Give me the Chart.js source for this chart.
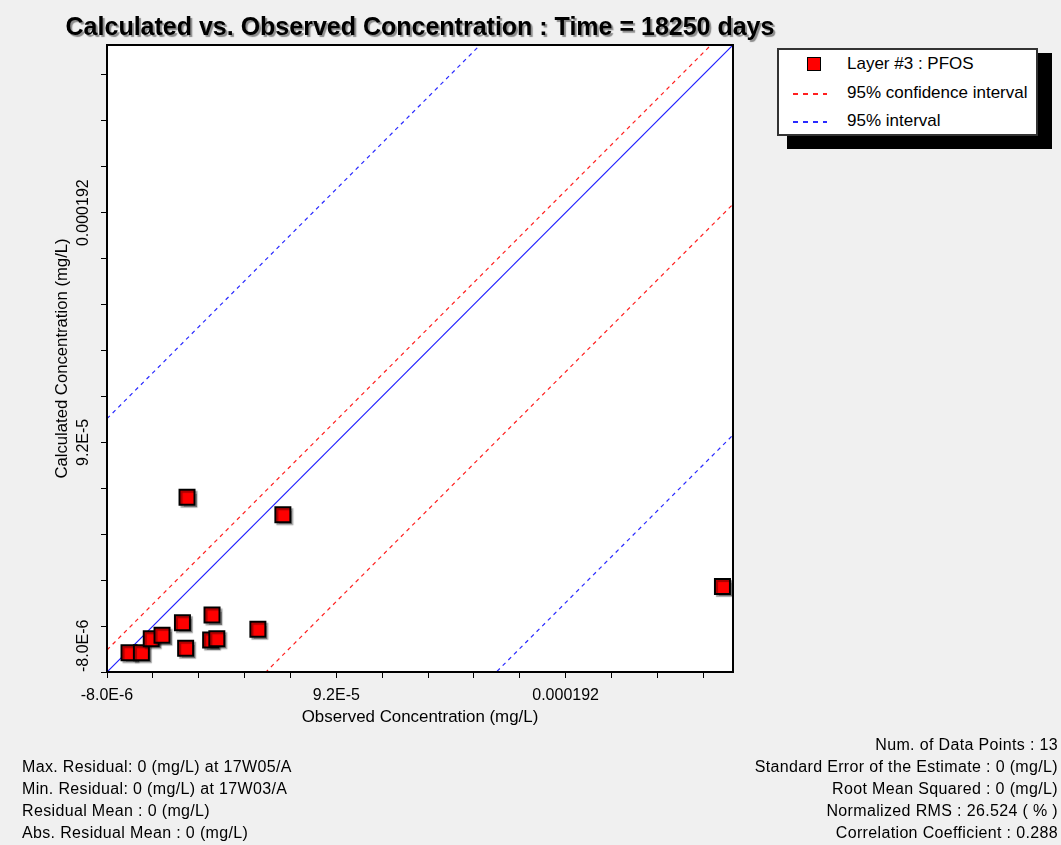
<!DOCTYPE html>
<html>
<head>
<meta charset="utf-8">
<title>Calculated vs. Observed Concentration</title>
<script src="https://cdn.jsdelivr.net/npm/chart.js@4.4.1/dist/chart.umd.min.js"></script>
<style>
  html, body { margin: 0; padding: 0; background: #f0f0f0; }
  body { width: 1061px; height: 845px; position: relative; overflow: hidden;
         font-family: "Liberation Sans", Arial, sans-serif; color: #000; }
  #chart { position: absolute; left: 0; top: 0; }
  #title { position: absolute; left: 420px; top: 11px; transform: translateX(-50%);
           white-space: nowrap; font-weight: bold; font-size: 25px; line-height: 30px;
           text-shadow: 2px 2px 1px #8c8c8c; }
  #legendShadow { position: absolute; left: 787px; top: 53px; width: 265px; height: 96px; background: #000; }
  #legend { position: absolute; left: 777px; top: 48px; width: 257px; height: 84px;
            background: #fff; border: 2px solid #333; }
  .item { position: absolute; left: 0; width: 100%; height: 20px; line-height: 20px; font-size: 17px; white-space: nowrap; }
  .item .mark { position: absolute; }
  .item .txt { position: absolute; left: 68px; top: 0; }
  .stats { position: absolute; font-size: 16px; letter-spacing: 0.35px; line-height: 22px; white-space: nowrap; }
  #statsLeft { left: 22px; top: 756px; }
  #statsRight { right: 3px; top: 734px; text-align: right; }
</style>
</head>
<body>
<canvas id="chart" width="1061" height="845"></canvas>
<div id="title">Calculated vs. Observed Concentration : Time = 18250 days</div>
<div id="legendShadow"></div>
<div id="legend"></div>
<div id="statsLeft" class="stats"></div>
<div id="statsRight" class="stats"></div>
<script>
// observed vs calculated concentration (mg/L), Layer #3 : PFOS
const observed   = [2.69e-5, 6.87e-5, 1.6e-6, 7.0e-6, 1.13e-5, 1.60e-5, 2.49e-5, 2.63e-5, 3.78e-5, 3.72e-5, 3.99e-5, 5.78e-5, 2.604e-4];
const calculated = [6.81e-5, 6.05e-5, 4.0e-7, 4.0e-7, 6.5e-6, 8.0e-6, 1.34e-5, 2.3e-6, 1.68e-5, 5.9e-6, 6.5e-6, 1.06e-5, 2.92e-5];

// reference lines: offsets from the 1:1 line
const confidenceOffsets = [9.6e-6, -6.93e-5];
const intervalOffsets   = [1.103e-4, -1.698e-4];

// axes
const axisMin = -8e-6;
const axisMax = 2.65e-4;
const minorStep = 2e-5;
const tickValues = [-8e-6, 9.2e-5, 1.92e-4];
const tickLabels = ['-8.0E-6', '9.2E-5', '0.000192'];

const statsLeft = [
  'Max. Residual: 0 (mg/L) at 17W05/A',
  'Min. Residual: 0 (mg/L) at 17W03/A',
  'Residual Mean : 0 (mg/L)',
  'Abs. Residual Mean : 0 (mg/L)'
];
const statsRight = [
  'Num. of Data Points : 13',
  'Standard Error of the Estimate : 0 (mg/L)',
  'Root Mean Squared : 0 (mg/L)',
  'Normalized RMS : 26.524 ( % )',
  'Correlation Coefficient : 0.288'
];

const FONT = '"Liberation Sans", Arial, sans-serif';
Chart.defaults.font.family = FONT;
Chart.defaults.font.size = 16;
Chart.defaults.color = '#000';

function refLine(label, offset, color, dash) {
  return {
    label: label,
    data: [{ x: axisMin, y: axisMin + offset }, { x: axisMax, y: axisMax + offset }],
    showLine: true,
    borderColor: color,
    borderWidth: 1.2,
    borderDash: dash,
    pointRadius: 0,
    fill: false,
    clip: 0
  };
}

const points = observed.map((x, i) => ({ x: x, y: calculated[i] }));

const datasets = [
  {
    label: 'Layer #3 : PFOS',
    data: points,
    pointStyle: 'rect',
    pointRadius: 10.6,
    backgroundColor: '#ff0000',
    borderColor: '#000',
    borderWidth: 2
  },
  refLine('1:1', 0, '#1f1fff', []),
  refLine('95% confidence interval', confidenceOffsets[0], '#ff1f1f', [4, 4]),
  refLine('95% confidence interval', confidenceOffsets[1], '#ff1f1f', [4, 4]),
  refLine('95% interval', intervalOffsets[0], '#2a2aff', [4, 4]),
  refLine('95% interval', intervalOffsets[1], '#2a2aff', [4, 4])
];

function allTicks(scale) {
  const t = [];
  const n = Math.floor((axisMax - axisMin) / minorStep + 1e-9);
  for (let i = 0; i <= n; i++) t.push({ value: axisMin + i * minorStep });
  scale.ticks = t;
}

function labelFor(value) {
  const i = tickValues.findIndex(t => Math.abs(t - value) < 1e-9);
  return i >= 0 ? tickLabels[i] : '';
}

// white plot area, marker shadow, frame, rotated y labels
const decor = {
  id: 'decor',
  beforeDatasetsDraw(chart) {
    const a = chart.chartArea, ctx = chart.ctx;
    ctx.save();
    ctx.fillStyle = '#fff';
    ctx.fillRect(a.left, a.top, a.right - a.left, a.bottom - a.top);
    ctx.restore();
  },
  beforeDatasetDraw(chart, args) {
    if (args.index !== 0) return;
    const ctx = chart.ctx;
    ctx.save();
    ctx.shadowColor = 'rgba(0,0,0,0.35)';
    ctx.shadowOffsetX = 2;
    ctx.shadowOffsetY = 2;
    ctx.shadowBlur = 1;
  },
  afterDatasetDraw(chart, args) {
    if (args.index === 0) chart.ctx.restore();
  },
  afterDraw(chart) {
    const a = chart.chartArea, ctx = chart.ctx;
    const y = chart.scales.y;
    ctx.save();
    ctx.strokeStyle = '#000';
    ctx.lineWidth = 2;
    ctx.strokeRect(a.left, a.top, a.right - a.left, a.bottom - a.top);
    ctx.font = '16px ' + FONT;
    ctx.fillStyle = '#000';
    ctx.textAlign = 'center';
    ctx.textBaseline = 'middle';
    tickValues.forEach((v, i) => {
      const half = ctx.measureText(tickLabels[i]).width / 2;
      let p = y.getPixelForValue(v);
      p = Math.min(Math.max(p, a.top + half), a.bottom - half);
      ctx.save();
      ctx.translate(84, p);
      ctx.rotate(-Math.PI / 2);
      ctx.fillText(tickLabels[i], 0, 0);
      ctx.restore();
    });
    ctx.restore();
  }
};

const chart = new Chart(document.getElementById('chart'), {
  type: 'scatter',
  data: { datasets: datasets },
  options: {
    responsive: false,
    animation: false,
    layout: { padding: { left: 0, top: 45, right: 328, bottom: 113 } },
    plugins: { legend: { display: false }, title: { display: false }, tooltip: { enabled: false } },
    scales: {
      x: {
        type: 'linear',
        min: axisMin,
        max: axisMax,
        afterBuildTicks: allTicks,
        afterFit: s => { s.height = 60; },
        grid: { drawOnChartArea: false, drawTicks: true, tickLength: 6, color: '#000' },
        border: { color: '#000', width: 2 },
        ticks: { autoSkip: false, maxRotation: 0, padding: 8, callback: labelFor },
        title: { display: true, text: 'Observed Concentration (mg/L)', font: { size: 16.9 }, padding: { top: 0, bottom: 5 } }
      },
      y: {
        type: 'linear',
        min: axisMin,
        max: axisMax,
        afterBuildTicks: allTicks,
        afterFit: s => { s.width = 107; },
        grid: { drawOnChartArea: false, drawTicks: true, tickLength: 6, color: '#000' },
        border: { color: '#000', width: 2 },
        ticks: { display: false },
        title: { display: true, text: 'Calculated Concentration (mg/L)', font: { size: 16.7 }, padding: { top: 52, bottom: 0 } }
      }
    }
  },
  plugins: [decor]
});

// legend built from the datasets
const legend = document.getElementById('legend');
const seen = new Set();
let row = 0;
datasets.forEach(ds => {
  if (ds.label === '1:1' || seen.has(ds.label)) return;
  seen.add(ds.label);
  const item = document.createElement('div');
  item.className = 'item';
  item.style.top = Math.round(4 + row * 28.5) + 'px';
  const mark = document.createElement('div');
  mark.className = 'mark';
  if (ds.pointStyle === 'rect') {
    Object.assign(mark.style, { left: '28px', top: '3px', width: '12px', height: '12px',
      background: ds.backgroundColor, border: '1px solid #000' });
  } else {
    Object.assign(mark.style, { left: '14px', top: '10px', width: '34px', height: '1.5px',
      background: 'repeating-linear-gradient(to right, ' + ds.borderColor + ' 0 5px, transparent 5px 10px)' });
  }
  const txt = document.createElement('div');
  txt.className = 'txt';
  txt.textContent = ds.label;
  item.appendChild(mark);
  item.appendChild(txt);
  legend.appendChild(item);
  row++;
});

document.getElementById('statsLeft').innerHTML = statsLeft.map(s => '<div>' + s + '</div>').join('');
document.getElementById('statsRight').innerHTML = statsRight.map(s => '<div>' + s + '</div>').join('');
</script>
</body>
</html>
